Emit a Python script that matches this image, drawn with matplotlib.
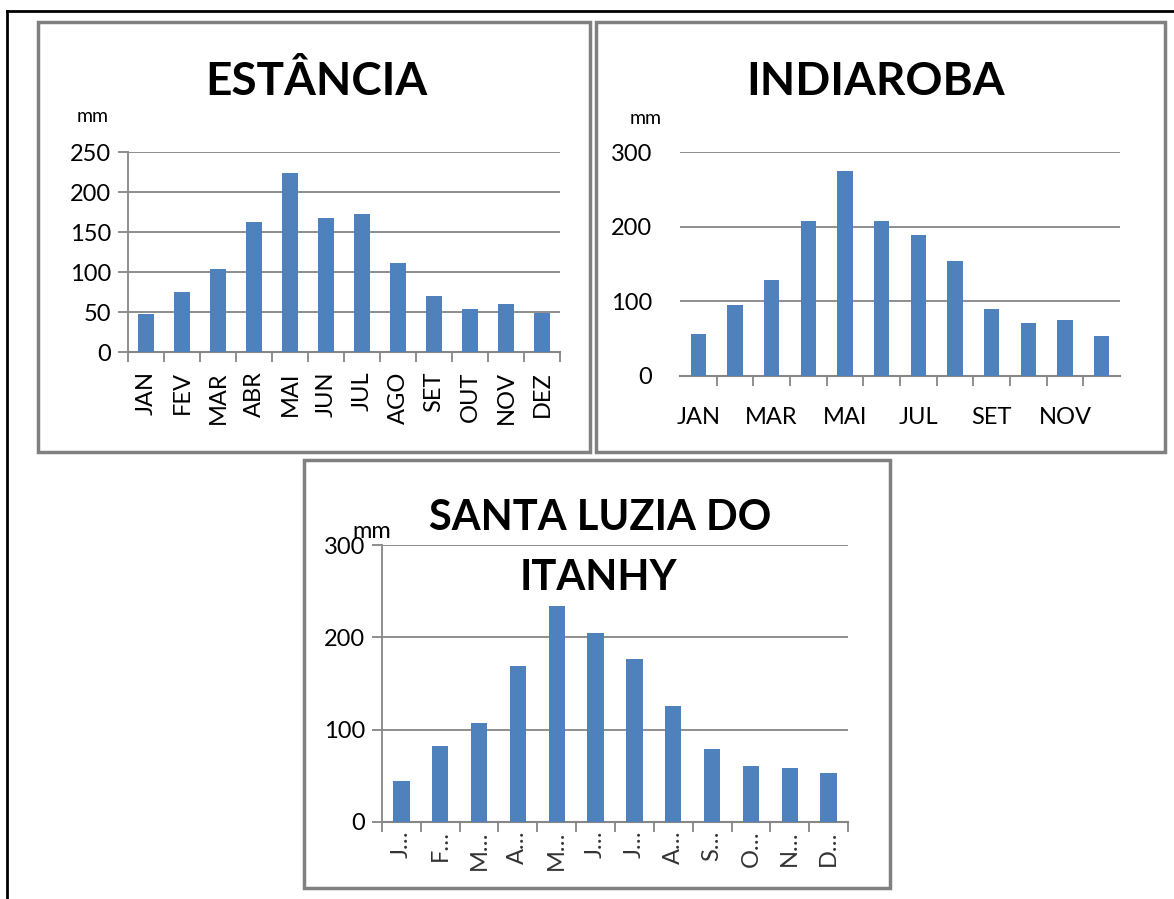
import matplotlib
matplotlib.use("Agg")
import matplotlib.pyplot as plt
from matplotlib.patches import Rectangle
from matplotlib.lines import Line2D

W, H = 1174, 899
plt.rcParams['font.family'] = ['Lato', 'DejaVu Sans']

meses = ["JAN", "FEV", "MAR", "ABR", "MAI", "JUN", "JUL", "AGO", "SET", "OUT", "NOV", "DEZ"]
meses_curtos = ["J…", "F…", "M…", "A…", "M…", "J…", "J…", "A…", "S…", "O…", "N…", "D…"]

# precipitação média mensal (mm)
estancia = [48, 75, 104, 163, 224, 167, 173, 111, 70, 54, 60, 49]
indiaroba = [56, 95, 129, 207, 275, 207, 189, 154, 90, 71, 75, 54]
santa_luzia = [44, 82, 107, 169, 234, 205, 176, 126, 79, 61, 59, 53]

azul = "#4F81BD"
cinza = "#868686"

fig = plt.figure(figsize=(W / 100, H / 100), dpi=100)


def caixa(x0, y0, x1, y1):
    # pixels contados a partir do topo -> fração da figura
    return [x0 / W, 1 - y1 / H, (x1 - x0) / W, (y1 - y0) / H]


def moldura(x0, y0, x1, y1):
    fig.patches.append(Rectangle((x0 / W, 1 - y1 / H), (x1 - x0) / W, (y1 - y0) / H,
                                 transform=fig.transFigure, fill=False,
                                 edgecolor="#808080", lw=2.5))


def texto(x, y, s, **kw):
    fig.text(x / W, 1 - y / H, s, ha="center", va="center", **kw)


# borda externa (só topo e esquerda aparecem)
fig.lines.append(Line2D([7 / W, 7 / W], [0, 1 - 11 / H], transform=fig.transFigure, color="black", lw=2))
fig.lines.append(Line2D([7 / W, 1], [1 - 11 / H, 1 - 11 / H], transform=fig.transFigure, color="black", lw=2))

moldura(38, 22, 590, 452)
moldura(596, 22, 1165, 452)
moldura(304, 460, 890, 888)


def grafico(ax, valores, ymax, passo, eixo_y=True):
    x = list(range(len(valores)))
    ax.bar(x, valores, width=0.42, color=azul, zorder=3)
    ax.set_xlim(-0.5, 11.5)
    ax.set_ylim(0, ymax)
    ax.set_yticks(range(0, ymax + 1, passo))
    ax.yaxis.grid(True, color=cinza, lw=1.3)
    ax.set_axisbelow(True)
    for s in ["top", "right"]:
        ax.spines[s].set_visible(False)
    ax.spines["bottom"].set_color(cinza)
    ax.spines["bottom"].set_linewidth(1.5)
    ax.spines["left"].set_visible(eixo_y)
    ax.spines["left"].set_color(cinza)
    ax.spines["left"].set_linewidth(1.3)
    ax.tick_params(axis="y", labelsize=17, colors=cinza, labelcolor="black",
                   length=7 if eixo_y else 0, width=1.3, pad=5 if eixo_y else 20)
    ax.patch.set_alpha(0)


# ESTÂNCIA
ax1 = fig.add_axes(caixa(128, 152, 560, 352))
grafico(ax1, estancia, 250, 50)
ax1.set_xticks(range(12))
ax1.set_xticklabels(meses, rotation=90, fontsize=17)
ax1.tick_params(axis="x", length=0, pad=14)
ax1.set_xticks([i - 0.5 for i in range(13)], minor=True)
ax1.tick_params(axis="x", which="minor", length=7, width=1.3, color=cinza)
texto(316, 82, "ESTÂNCIA", fontsize=33, fontweight="bold")
texto(93, 117, "mm", fontsize=14)

# INDIAROBA
ax2 = fig.add_axes(caixa(680, 152, 1120, 376))
grafico(ax2, indiaroba, 300, 100, eixo_y=False)
ax2.set_xticks(range(0, 12, 2))
ax2.set_xticklabels(meses[::2], fontsize=17)
ax2.tick_params(axis="x", length=0, pad=22)
ax2.set_xticks([i + 0.5 for i in range(11)], minor=True)
ax2.tick_params(axis="x", which="minor", length=7, width=1.3, color=cinza)
texto(876, 82, "INDIAROBA", fontsize=33, fontweight="bold")
texto(646, 118, "mm", fontsize=14)

# SANTA LUZIA DO ITANHY
ax3 = fig.add_axes(caixa(382, 545, 848, 822))
grafico(ax3, santa_luzia, 300, 100)
ax3.set_xticks(range(12))
ax3.set_xticklabels(meses_curtos, rotation=90, fontsize=17, color="#333333")
ax3.tick_params(axis="x", length=0, pad=6)
ax3.set_xticks([i - 0.5 for i in range(13)], minor=True)
ax3.tick_params(axis="x", which="minor", length=7, width=1.3, color=cinza)
texto(600, 518, "SANTA LUZIA DO", fontsize=30, fontweight="bold")
texto(598, 578, "ITANHY", fontsize=30, fontweight="bold")
texto(372, 532, "mm", fontsize=17)

fig.savefig("out.png", dpi=100)
